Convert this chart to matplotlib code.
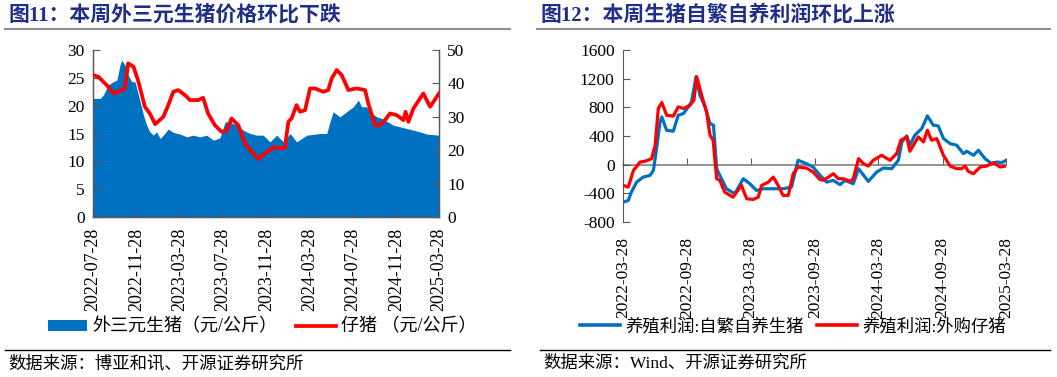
import matplotlib
matplotlib.use("Agg")
import matplotlib.pyplot as plt
from matplotlib.patches import Patch
from matplotlib.lines import Line2D
import pandas as pd

plt.rcParams['font.family'] = ['Liberation Serif', 'Noto Sans CJK SC']
plt.rcParams['axes.unicode_minus'] = False

# ---------------- Chart 1 data ----------------
hog_dates = ["2022-07-28","2022-08-17","2022-08-26","2022-09-09","2022-09-23","2022-10-03","2022-10-12",
             "2022-10-17","2022-10-26","2022-11-04","2022-11-14","2022-11-23","2022-12-03","2022-12-17",
             "2022-12-26","2023-01-04","2023-01-14","2023-01-23","2023-02-02","2023-02-11","2023-02-25",
             "2023-03-11","2023-03-30","2023-04-18","2023-05-06","2023-05-25","2023-06-13","2023-07-02",
             "2023-07-20","2023-08-04","2023-08-18","2023-09-06","2023-09-24","2023-10-13","2023-11-01",
             "2023-11-19","2023-12-08","2023-12-27","2024-01-15","2024-02-03","2024-02-21","2024-03-21",
             "2024-04-27","2024-05-16","2024-05-25","2024-06-03","2024-06-22","2024-07-11","2024-07-30",
             "2024-08-13","2024-08-22","2024-09-05","2024-09-20","2024-10-04","2024-10-22","2024-11-19",
             "2024-12-27","2025-02-02","2025-02-21","2025-03-28"]
hog_price = [21.3,21.3,21.9,23.7,24.3,24.6,27.3,
             28.2,27.3,25.5,24.3,24.3,21.9,18.3,
             16.5,15.3,14.7,15.3,14.1,14.7,15.8,
             15.2,14.9,14.4,14.7,14.4,14.7,13.8,
             14.2,17.1,17.0,16.5,15.6,15.0,14.7,
             14.7,13.5,14.7,13.5,15.0,13.5,14.7,
             15.0,15.0,17.1,18.9,18.0,18.9,19.8,
             21.0,19.8,19.8,18.6,18.0,17.6,16.5,
             15.9,15.3,14.9,14.7]

piglet_dates = ["2022-07-28","2022-08-12","2022-08-26","2022-09-09","2022-09-23","2022-10-07","2022-10-26",
                "2022-11-04","2022-11-19","2022-12-03","2022-12-21","2023-01-04","2023-01-19","2023-02-11",
                "2023-02-25","2023-03-11","2023-03-25","2023-04-13","2023-04-27","2023-05-20","2023-06-03",
                "2023-06-17","2023-07-06","2023-07-25","2023-08-08","2023-08-22","2023-09-10","2023-09-29",
                "2023-10-18","2023-11-05","2023-11-24","2023-12-13","2023-12-22","2024-01-05","2024-01-19",
                "2024-01-29","2024-02-07","2024-02-21","2024-03-02","2024-03-16","2024-03-30","2024-04-13",
                "2024-05-06","2024-05-20","2024-05-30","2024-06-13","2024-06-27","2024-07-16","2024-08-08",
                "2024-09-01","2024-09-10","2024-09-29","2024-10-13","2024-10-27","2024-11-10","2024-11-29",
                "2024-12-18","2024-12-24","2025-01-01","2025-01-15","2025-02-12","2025-03-03","2025-03-28"]
piglet_price = [42.5,42.0,40.5,39.0,37.0,37.5,38.5,
                46.0,45.0,40.5,33.0,31.0,27.8,30.0,
                33.5,37.5,38.0,36.5,35.0,35.0,35.7,
                31.0,27.5,25.5,25.8,29.5,27.5,22.0,
                19.5,17.4,19.0,20.4,21.0,20.6,20.6,
                28.5,29.5,33.5,31.5,32.0,38.5,38.5,
                37.5,38.0,41.5,44.0,42.5,38.0,38.5,
                38.0,34.0,27.5,27.5,29.0,31.0,30.5,
                29.0,31.5,28.5,32.5,37.0,33.0,37.0]

left_ticks = ["2022-07-28","2022-11-28","2023-03-28","2023-07-28","2023-11-28",
              "2024-03-28","2024-07-28","2024-11-28","2025-03-28"]

# ---------------- Chart 2 data ----------------
self_dates = ["2022-03-28","2022-04-12","2022-04-21","2022-05-06","2022-05-25","2022-06-13","2022-06-23",
              "2022-07-02","2022-07-12","2022-07-17","2022-07-31","2022-08-19","2022-09-02","2022-09-17",
              "2022-10-01","2022-10-10","2022-10-23","2022-11-03","2022-11-18","2022-12-02","2022-12-12",
              "2022-12-21","2022-12-30","2023-01-18","2023-02-11","2023-03-07","2023-03-26","2023-04-14",
              "2023-05-03","2023-06-01","2023-06-29","2023-07-23","2023-08-11","2023-09-04","2023-09-23",
              "2023-10-13","2023-11-01","2023-11-20","2023-12-09","2023-12-23","2024-01-16","2024-01-31",
              "2024-02-28","2024-03-23","2024-04-11","2024-05-05","2024-05-24","2024-06-03","2024-06-17",
              "2024-06-26","2024-07-10","2024-07-30","2024-08-15","2024-09-01","2024-09-15","2024-09-30",
              "2024-10-19","2024-11-07","2024-11-26","2024-12-06","2024-12-25","2025-01-08","2025-01-27",
              "2025-02-15","2025-03-02","2025-03-16","2025-03-28"]
self_profit = [-523,-500,-383,-243,-173,-150,-80,
               224,597,667,480,467,690,714,
               807,877,1227,970,807,574,550,
               -56,-150,-336,-406,-196,-266,-360,
               -336,-336,-336,-313,61,14,-33,
               -150,-243,-219,-280,-219,-266,-56,
               -233,-103,-47,-56,61,317,401,
               271,411,504,681,551,541,364,
               294,271,154,187,131,201,84,
               14,37,28,61]

buy_dates = ["2022-03-28","2022-04-12","2022-04-27","2022-05-16","2022-05-30","2022-06-18","2022-06-28",
             "2022-07-07","2022-07-17","2022-07-31","2022-08-19","2022-09-02","2022-09-17","2022-10-06",
             "2022-10-17","2022-10-25","2022-11-08","2022-11-22","2022-12-02","2022-12-11","2022-12-21",
             "2022-12-30","2023-01-13","2023-02-06","2023-03-02","2023-03-17","2023-04-05","2023-04-19",
             "2023-04-29","2023-05-18","2023-06-01","2023-06-15","2023-06-29","2023-07-14","2023-07-28",
             "2023-08-11","2023-09-04","2023-09-23","2023-10-12","2023-10-22","2023-11-06","2023-11-20",
             "2023-12-04","2023-12-19","2024-01-07","2024-01-16","2024-01-31","2024-02-14","2024-02-28",
             "2024-03-13","2024-04-06","2024-04-30","2024-05-19","2024-05-31","2024-06-17","2024-06-26",
             "2024-07-20","2024-08-04","2024-08-15","2024-08-27","2024-09-11","2024-09-30","2024-10-19",
             "2024-11-07","2024-11-21","2024-12-01","2024-12-10","2024-12-25","2025-01-13","2025-02-01",
             "2025-02-20","2025-03-11","2025-03-28"]
buy_profit = [-289,-313,-80,37,47,84,271,
              784,868,690,677,807,784,830,
              900,1227,970,737,411,340,-196,
              -219,-383,-453,-289,-476,-485,-453,
              -289,-243,-173,-289,-429,-429,-126,
              -33,-47,-103,-205,-219,-173,-126,
              -196,-196,-233,-196,84,14,-19,
              61,131,61,154,341,387,187,
              387,317,481,341,364,131,-19,
              -56,-56,-19,-93,-126,-33,-19,
              28,-33,-19]

right_ticks = ["2022-03-28","2022-09-28","2023-03-28","2023-09-28",
               "2024-03-28","2024-09-28","2025-03-28"]

# ---------------- Styling ----------------
BLUE = '#0070C0'
RED = '#FF0000'
NAVY = '#1F2F86'
SPINE = '#595959'
TICK_FS = 12.5

fig = plt.figure(figsize=(10.57, 3.77), dpi=100)

def fx(px):
    return px / 1057.0

def fy(py):
    return 1 - py / 377.0

# ---------------- Left chart ----------------
ax1 = fig.add_axes([fx(93), fy(217), fx(439 - 93), fy(50) - fy(217)])
hd = pd.to_datetime(hog_dates)
pdt = pd.to_datetime(piglet_dates)
ax1.fill_between(hd, 0, hog_price, color=BLUE, linewidth=0, zorder=1)
ax1.set_ylim(0, 30)
ax1.set_yticks(range(0, 31, 5))
lt = pd.to_datetime(left_ticks)
ax1.set_xlim(lt[0], lt[-1])
ax1.set_xticks(lt)
ax1.set_xticklabels(left_ticks, rotation=90, fontsize=TICK_FS + 0.5)
ax1.tick_params(axis='x', direction='in', length=5, pad=8, color=SPINE)
ax1.tick_params(axis='y', direction='in', length=5, pad=6, labelsize=TICK_FS, color=SPINE)
ax1.spines['top'].set_visible(False)
for s in ['left', 'bottom', 'right']:
    ax1.spines[s].set_color(SPINE)
    ax1.spines[s].set_linewidth(1.0)

ax1b = ax1.twinx()
ax1b.plot(pdt, piglet_price, color=RED, linewidth=2.7, zorder=3)
ax1b.set_ylim(0, 50)
ax1b.set_yticks(range(0, 51, 10))
ax1b.tick_params(axis='y', direction='in', length=5, pad=6, labelsize=TICK_FS, color=SPINE)
ax1b.spines['top'].set_visible(False)
for s in ['left', 'bottom', 'right']:
    ax1b.spines[s].set_color(SPINE)
ax1b.set_xlim(lt[0], lt[-1])

h1 = [Patch(facecolor=BLUE, edgecolor='none'), Line2D([0], [0], color=RED, linewidth=2.7)]
fig.legend(h1, ['外三元生猪（元/公斤）', '仔猪 （元/公斤）'], loc='center',
           bbox_to_anchor=(fx(262), fy(327)), ncol=2, frameon=False,
           fontsize=13, handlelength=2.2, handleheight=0.55, columnspacing=1.0, handletextpad=0.3)

# ---------------- Right chart ----------------
ax2 = fig.add_axes([fx(623), fy(222), fx(1006 - 623), fy(50) - fy(222)])
sd = pd.to_datetime(self_dates)
bd = pd.to_datetime(buy_dates)
ax2.plot(sd, self_profit, color=BLUE, linewidth=2.3, zorder=3)
ax2.plot(bd, buy_profit, color=RED, linewidth=2.3, zorder=4)
ax2.set_ylim(-800, 1600)
ax2.set_yticks(range(-800, 1601, 400))
rt = pd.to_datetime(right_ticks)
ax2.set_xlim(rt[0], rt[-1])
ax2.set_xticks(rt)
ax2.set_xticklabels(right_ticks, rotation=90, fontsize=TICK_FS)
ax2.tick_params(axis='x', length=0, pad=11)
ax2.tick_params(axis='y', direction='in', length=5, pad=6, labelsize=TICK_FS, color=SPINE)
for s in ['top', 'right', 'bottom']:
    ax2.spines[s].set_visible(False)
ax2.spines['left'].set_color(SPINE)

zero_ax = ax2.secondary_xaxis(0, transform=ax2.transData)
zero_ax.set_xticks(rt)
zero_ax.set_xticklabels([''] * len(rt))
zero_ax.tick_params(axis='x', direction='in', length=5, color=SPINE)
zero_ax.spines['bottom'].set_color('#808080')
zero_ax.spines['bottom'].set_linewidth(1.2)

h2 = [Line2D([0], [0], color=BLUE, linewidth=2.6), Line2D([0], [0], color=RED, linewidth=2.6)]
fig.legend(h2, ['养殖利润:自繁自养生猪', '养殖利润:外购仔猪'], loc='center',
           bbox_to_anchor=(fx(793), fy(327)), ncol=2, frameon=False,
           fontsize=12.5, handlelength=2.3, columnspacing=0.8, handletextpad=0.3)

# ---------------- Titles, rules, sources ----------------
fig.text(fx(8), fy(15), '图11：本周外三元生猪价格环比下跌', fontsize=15, fontweight='bold',
         color=NAVY, va='center', ha='left')
fig.text(fx(540), fy(15), '图12：本周生猪自繁自养利润环比上涨', fontsize=15, fontweight='bold',
         color=NAVY, va='center', ha='left')
fig.add_artist(Line2D([fx(5), fx(510)], [fy(29), fy(29)], color='#8C8C8C', linewidth=1.5))
fig.add_artist(Line2D([fx(537), fx(1050)], [fy(29), fy(29)], color='#8C8C8C', linewidth=1.5))
fig.add_artist(Line2D([fx(5), fx(510)], [fy(350), fy(350)], color='black', linewidth=1.0))
fig.add_artist(Line2D([fx(540), fx(1050)], [fy(350), fy(350)], color='black', linewidth=1.0))
fig.text(fx(8), fy(364), '数据来源：博亚和讯、开源证券研究所', fontsize=12.5, va='center', ha='left')
fig.text(fx(543), fy(364), '数据来源：Wind、开源证券研究所', fontsize=12.5, va='center', ha='left')

fig.savefig('out.png', dpi=100)
